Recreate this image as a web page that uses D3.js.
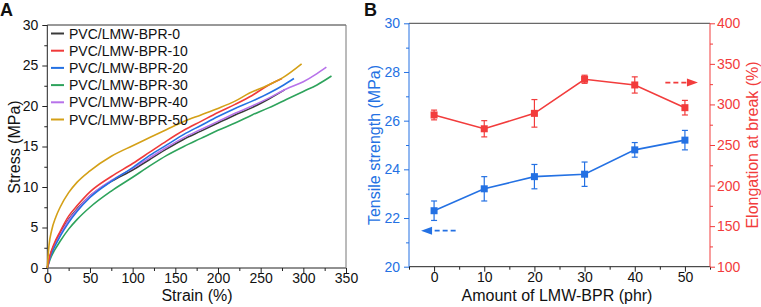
<!DOCTYPE html>
<html><head><meta charset="utf-8">
<script src="https://cdn.jsdelivr.net/npm/d3@7"></script>
<style>
body{margin:0;background:#fff;}
svg{display:block;font-family:"Liberation Sans",Arial,sans-serif;}
</style></head>
<body><svg id="c" width="761" height="307"></svg>
<script>
// ---------- Panel A data: stress-strain curves [strain %, stress MPa]
const seriesNames = ["PVC/LMW-BPR-0","PVC/LMW-BPR-10","PVC/LMW-BPR-20","PVC/LMW-BPR-30","PVC/LMW-BPR-40","PVC/LMW-BPR-50"];
const seriesColors = ["#3a3a3a","#f03a3a","#2471e3","#2ea35c","#b772ea","#d4a017"];
const curve0 = [[0,0],[3,1.4],[8,2.8],[15,4.3],[25,6.0],[35,7.3],[50,8.9],[75,10.7],[100,12.1],[120,13.4],[140,14.7],[160,15.9],[180,16.9],[200,17.9],[220,18.9],[240,19.8],[260,20.9],[278,22.0]];
const curve10 = [[0,0],[3,1.5],[8,3.0],[15,4.5],[25,6.4],[35,7.7],[50,9.4],[75,11.3],[100,12.9],[120,14.3],[140,15.7],[160,17.0],[180,18.1],[200,19.2],[220,20.2],[240,21.3],[258,22.5],[275,23.4]];
const curve20 = [[0,0],[3,1.2],[8,2.5],[15,3.9],[25,5.6],[35,7.0],[50,8.7],[75,10.7],[100,12.4],[120,13.9],[140,15.2],[160,16.5],[180,17.6],[200,18.7],[220,19.7],[240,20.6],[260,21.6],[277,22.6],[289,23.4]];
const curve30 = [[0,0],[3,1.0],[8,2.1],[15,3.3],[25,4.8],[35,6.0],[50,7.5],[75,9.5],[100,11.2],[120,12.6],[140,13.9],[160,15.0],[180,16.0],[200,17.0],[220,17.9],[240,18.9],[260,19.8],[280,20.8],[300,21.8],[316,22.6],[333,23.7]];
const curve40 = [[0,0],[3,1.3],[8,2.7],[15,4.1],[25,5.9],[35,7.2],[50,8.9],[75,10.8],[100,12.3],[120,13.6],[140,14.9],[160,16.1],[180,17.1],[200,18.1],[220,19.1],[240,20.0],[260,21.0],[280,22.1],[300,23.0],[316,24.0],[327,24.8]];
const curve50 = [[0,0],[2,2.8],[5,4.6],[10,6.3],[15,7.5],[25,9.3],[35,10.6],[50,12.0],[75,13.8],[100,15.1],[120,16.1],[140,17.1],[160,18.1],[180,18.9],[200,19.7],[220,20.6],[237,21.6],[257,22.5],[276,23.5],[298,25.2]];
const curves = [curve0,curve10,curve20,curve30,curve40,curve50];
const strainTicks = [0,50,100,150,200,250,300,350];
const stressTicks = [0,5,10,15,20,25,30];

// ---------- Panel B data
const amounts = [0,10,20,30,40,50];
const tensile = [22.3,23.2,23.7,23.8,24.8,25.2];
const tensileErr = [0.4,0.5,0.5,0.5,0.3,0.4];
const elongation = [287,270,289,331,324,296];
const elongationErr = [6,10,17,5,10,9];
const amountTicks = [0,10,20,30,40,50];
const tensileTicks = [20,22,24,26,28,30];
const elongTicks = [100,150,200,250,300,350,400];

const svg = d3.select("#c");
const FS = 14;

// ================= Panel A =================
const xA = d3.scaleLinear().domain([0,350]).range([47.3,346]);
const yA = d3.scaleLinear().domain([0,30]).range([268,25]);
const gA = svg.append("g");

function drawAxisBottom(g, scale, y, major, minor, color){
  const ax = g.append("g").attr("transform",`translate(0,${y})`)
    .call(d3.axisBottom(scale).tickValues(minor).tickSize(3).tickFormat(""));
  ax.select(".domain").remove();
  ax.selectAll("line").attr("stroke",color);
  const ax2 = g.append("g").attr("transform",`translate(0,${y})`)
    .call(d3.axisBottom(scale).tickValues(major).tickSize(5).tickPadding(0).tickFormat(d3.format("d")));
  ax2.select(".domain").remove();
  ax2.selectAll("line").attr("stroke",color);
  ax2.selectAll("text").attr("fill","#111").style("font-size",FS+"px").style("font-family","Liberation Sans, Arial");
}
function drawAxisLeft(g, scale, x, major, minor, color, textColor){
  const ax = g.append("g").attr("transform",`translate(${x},0)`)
    .call(d3.axisLeft(scale).tickValues(minor).tickSize(3).tickFormat(""));
  ax.select(".domain").remove();
  ax.selectAll("line").attr("stroke",color);
  const ax2 = g.append("g").attr("transform",`translate(${x},0)`)
    .call(d3.axisLeft(scale).tickValues(major).tickSize(5).tickPadding(4).tickFormat(d3.format("d")));
  ax2.select(".domain").remove();
  ax2.selectAll("line").attr("stroke",color);
  ax2.selectAll("text").attr("fill",textColor).style("font-size",FS+"px").style("font-family","Liberation Sans, Arial");
}
function drawAxisRight(g, scale, x, major, minor, color, textColor){
  const ax = g.append("g").attr("transform",`translate(${x},0)`)
    .call(d3.axisRight(scale).tickValues(minor).tickSize(3).tickFormat(""));
  ax.select(".domain").remove();
  ax.selectAll("line").attr("stroke",color);
  const ax2 = g.append("g").attr("transform",`translate(${x},0)`)
    .call(d3.axisRight(scale).tickValues(major).tickSize(5).tickPadding(2).tickFormat(d3.format("d")));
  ax2.select(".domain").remove();
  ax2.selectAll("line").attr("stroke",color);
  ax2.selectAll("text").attr("fill",textColor).style("font-size",FS+"px").style("font-family","Liberation Sans, Arial");
}

const minorStrain = d3.range(25,350,50);
const minorStress = d3.range(2.5,30,5);
drawAxisBottom(gA, xA, 268, strainTicks, minorStrain, "#222");
drawAxisLeft(gA, yA, 47.3, stressTicks, minorStress, "#222", "#111");

// frame
gA.append("line").attr("x1",xA(0)).attr("x2",xA(0)).attr("y1",yA(0)).attr("y2",yA(30)).attr("stroke","#222").attr("stroke-width",1);
gA.append("line").attr("x1",xA(0)).attr("x2",xA(350)).attr("y1",yA(0)).attr("y2",yA(0)).attr("stroke","#222").attr("stroke-width",1);
gA.append("line").attr("x1",xA(0)).attr("x2",xA(350)).attr("y1",yA(30)).attr("y2",yA(30)).attr("stroke","#333").attr("stroke-width",1);
gA.append("line").attr("x1",xA(350)).attr("x2",xA(350)).attr("y1",yA(0)).attr("y2",yA(30)).attr("stroke","#777").attr("stroke-width",1);

const lineA = d3.line().x(d=>xA(d[0])).y(d=>yA(d[1])).curve(d3.curveMonotoneX);
[3,0,4,2,1,5].forEach(i=>{
  gA.append("path").datum(curves[i]).attr("d",lineA).attr("fill","none")
    .attr("stroke",seriesColors[i]).attr("stroke-width",1.6).attr("stroke-linejoin","round");
});

// legend
const leg = gA.append("g");
seriesNames.forEach((n,i)=>{
  const y = 33.5 + i*17.2;
  leg.append("line").attr("x1",51).attr("x2",64).attr("y1",y).attr("y2",y).attr("stroke",seriesColors[i]).attr("stroke-width",2);
  leg.append("text").attr("x",69).attr("y",y+5).text(n).style("font-size","14px").attr("fill","#111");
});

// titles
gA.append("text").attr("transform","translate(20,147) rotate(-90)").attr("text-anchor","middle")
  .text("Stress (MPa)").style("font-size","16px").attr("fill","#111");
gA.append("text").attr("x",197).attr("y",301).attr("text-anchor","middle")
  .text("Strain (%)").style("font-size","16px").attr("fill","#111");
svg.append("text").attr("x",0).attr("y",16).text("A").style("font-size","18px").style("font-weight","bold").attr("fill","#111");

// ================= Panel B =================
const blue = "#2471e3", red = "#f23c3c";
const xB = d3.scaleLinear().domain([-5,55]).range([409,710]);
const yL = d3.scaleLinear().domain([20,30]).range([266.7,23.3]);
const yR = d3.scaleLinear().domain([100,400]).range([266.7,23.3]);
const gB = svg.append("g");

drawAxisBottom(gB, xB, 266.7, amountTicks, d3.range(-5,60,10), "#222");
drawAxisLeft(gB, yL, 409, tensileTicks, d3.range(21,30,2), blue, blue);
drawAxisRight(gB, yR, 710, elongTicks, d3.range(125,400,50), red, red);

gB.append("line").attr("x1",409).attr("x2",710).attr("y1",yL(20)).attr("y2",yL(20)).attr("stroke","#222");
gB.append("line").attr("x1",409).attr("x2",710).attr("y1",yL(30)).attr("y2",yL(30)).attr("stroke","#444");
gB.append("line").attr("x1",409).attr("x2",409).attr("y1",yL(20)).attr("y2",yL(30)).attr("stroke",blue);
gB.append("line").attr("x1",710).attr("x2",710).attr("y1",yL(20)).attr("y2",yL(30)).attr("stroke",red);

function series(vals, errs, yS, color){
  const g = gB.append("g");
  g.append("path").datum(amounts.map((a,i)=>[a,vals[i]]))
    .attr("d", d3.line().x(d=>xB(d[0])).y(d=>yS(d[1])))
    .attr("fill","none").attr("stroke",color).attr("stroke-width",1.6);
  amounts.forEach((a,i)=>{
    const x = xB(a), y1 = yS(vals[i]-errs[i]), y2 = yS(vals[i]+errs[i]);
    g.append("line").attr("x1",x).attr("x2",x).attr("y1",y1).attr("y2",y2).attr("stroke",color).attr("stroke-width",1.2);
    g.append("line").attr("x1",x-3).attr("x2",x+3).attr("y1",y1).attr("y2",y1).attr("stroke",color).attr("stroke-width",1.2);
    g.append("line").attr("x1",x-3).attr("x2",x+3).attr("y1",y2).attr("y2",y2).attr("stroke",color).attr("stroke-width",1.2);
    g.append("rect").attr("x",x-3.5).attr("y",yS(vals[i])-3.5).attr("width",7).attr("height",7).attr("fill",color);
  });
}
series(tensile, tensileErr, yL, blue);
series(elongation, elongationErr, yR, red);

// dashed arrows
function arrow(xFrom, xTo, y, color){
  const dir = Math.sign(xTo - xFrom);
  gB.append("line").attr("x1",xFrom).attr("x2",xTo - dir*8).attr("y1",y).attr("y2",y)
    .attr("stroke",color).attr("stroke-width",1.8).attr("stroke-dasharray","5,3");
  gB.append("path").attr("d",`M${xTo},${y} L${xTo-dir*11},${y-4} L${xTo-dir*11},${y+4} Z`).attr("fill",color);
}
arrow(xB(4.3), xB(-2.6), yL(21.48), blue);
arrow(xB(46.1), xB(52.6), yR(327), red);

// titles
gB.append("text").attr("transform","translate(380,145) rotate(-90)").attr("text-anchor","middle")
  .text("Tensile strength (MPa)").style("font-size","16px").attr("fill",blue);
gB.append("text").attr("transform","translate(758,145) rotate(-90)").attr("text-anchor","middle")
  .text("Elongation at break (%)").style("font-size","16px").attr("fill",red);
gB.append("text").attr("x",557).attr("y",301).attr("text-anchor","middle")
  .text("Amount of LMW-BPR (phr)").style("font-size","16px").attr("fill","#111");
svg.append("text").attr("x",364).attr("y",16).text("B").style("font-size","18px").style("font-weight","bold").attr("fill","#111");
</script></body></html>
